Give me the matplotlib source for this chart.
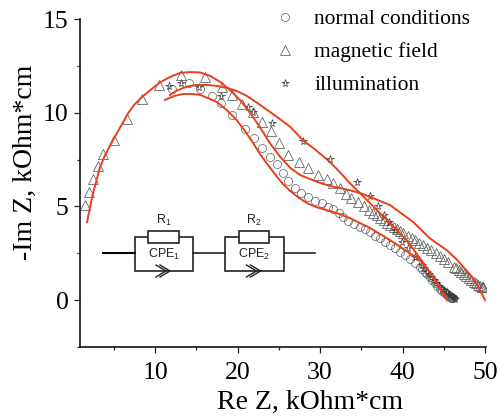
import matplotlib
matplotlib.use('Agg')
from matplotlib import pyplot as plt
from matplotlib.patches import Rectangle
from matplotlib.ticker import MultipleLocator

plt.rcParams['font.family'] = ['Liberation Serif', 'DejaVu Serif']
plt.rcParams['mathtext.default'] = 'regular'

# measured points
normal_x = [12.06, 14.1, 15.5, 16.9, 18, 19.3, 20.9, 22, 23, 23.9, 24.8, 25.5, 26.1, 27, 27.7, 28.5, 29.4,
            30.2, 31, 31.6, 32.3, 32.8, 33.4, 34.1, 34.8, 35.45, 36.06, 36.67, 37.27, 37.88, 38.48, 39.09,
            39.7, 40.3, 40.9, 41.5, 42.1, 42.4, 42.73, 43.0, 43.3, 43.6, 43.94, 44.2, 44.54, 44.8, 45.0, 45.15,
            45.4, 45.6, 45.76, 45.9, 46.0, 46.16]
normal_y = [11.27, 11.6, 11.27, 10.9, 10.5, 9.88, 9.13, 8.65, 8.1, 7.63, 7.26, 6.78, 6.35, 5.98, 5.71, 5.5, 5.29,
            5.18, 4.97, 4.86, 4.65, 4.43, 4.22, 4.06, 3.9, 3.77, 3.65, 3.43, 3.29, 3.11, 2.94, 2.76,
            2.58, 2.4, 2.22, 1.96, 1.78, 1.65, 1.51, 1.38, 1.25, 1.07, 0.89, 0.75, 0.62, 0.5, 0.42, 0.36,
            0.28, 0.2, 0.18, 0.14, 0.1, 0.09]

magnetic_x = [1.5, 2.0, 2.5, 3.1, 3.7, 5.0, 6.6, 8.4, 10.5, 13.15, 16.06, 18.1, 19.3, 20.5, 21.9, 23, 24.06, 25,
              26.1, 27.45, 28.5, 29.7, 30.8, 31.6, 32.4, 33.1, 33.8, 34.65, 35.3, 35.9, 36.4, 36.9, 37.3, 37.7,
              38.1, 38.5, 38.9, 39.3, 39.7, 40.1, 40.7, 41.1, 41.5, 42.0, 42.5, 43.0, 43.5, 44.0, 44.5, 45.0,
              45.55, 46.2, 46.5, 46.8, 47.1, 47.4, 47.7, 48, 48.3, 48.6, 48.9, 49.2, 49.4, 49.6, 49.7, 49.8]
magnetic_y = [5.07, 5.77, 6.46, 7.15, 7.8, 8.54, 9.66, 10.73, 11.48, 12.0, 11.9, 11.37, 10.95, 10.46, 10.04, 9.5, 9.02, 8.38,
              7.74, 7.37, 7.05, 6.67, 6.44, 6.23, 5.96, 5.66, 5.43, 5.21, 5.0, 4.8, 4.67, 4.54, 4.4, 4.27,
              4.13, 4.0, 3.88, 3.77, 3.68, 3.6, 3.43, 3.32, 3.2, 3.07, 2.94, 2.8, 2.67, 2.5, 2.35, 2.2,
              2.05, 1.78, 1.69, 1.6, 1.5, 1.39, 1.28, 1.16, 1.07, 0.98, 0.89, 0.8, 0.75, 0.71, 0.69, 0.68]

illum_x = [11.7, 13.15, 15.3, 18, 21.3, 21.9, 24.2, 27.9, 31.2, 34.45, 36.06, 37.07, 37.7, 38.3, 39.1, 39.9, 40.7,
           41.5, 42.3, 42.6, 42.9, 43.2, 43.5, 43.8, 44.1, 44.4, 44.75, 45.0, 45.35, 45.6, 45.8, 45.96, 46.1, 46.2, 46.36]
illum_y = [11.4, 11.6, 11.37, 10.9, 10.3, 10.04, 9.45, 8.49, 7.53, 6.32, 5.55, 5.0, 4.54, 4.18, 3.74, 3.11, 2.76,
           2.31, 1.87, 1.7, 1.51, 1.38, 1.25, 1.07, 0.89, 0.75, 0.62, 0.53, 0.45, 0.33, 0.27, 0.21, 0.16, 0.1, 0.04]

# red fit curves
fit1_x = [1.76, 2.36, 3.33, 3.94, 4.9, 5.5, 6.7, 7.45, 8.2, 9.4, 10.6, 11.8, 13, 14.2, 15.45, 16.7, 17.9, 19.1, 20.3, 21.5,
          22.7, 23.9, 25.2, 26.4, 27.6, 29.4, 31.2, 33.6, 35.2, 38.5, 41.3, 43.3, 45.4, 46.6, 47.6, 48.5, 49.3, 50]
fit1_y = [4.16, 5.5, 7.1, 7.74, 8.54, 9.0, 9.95, 10.41, 10.75, 11.2, 11.62, 11.9, 12.12, 12.17, 12.15, 11.96, 11.64, 11.2, 10.68, 10,
          9.24, 8.38, 7.63, 7.05, 6.67, 6.35, 6.09, 5.87, 5.66, 5.07, 4.16, 3.3, 2.65, 2.15, 1.65, 1.2, 0.6, 0]
fit2_x = [11.8, 12.55, 13.4, 14.24, 15.1, 16.3, 17.5, 18.7, 19.9, 21.15, 22.4, 23.6, 24.8, 26.4, 27.9, 29.5, 31.2, 32.4,
          33.6, 35.2, 38.1, 40.5, 42.1, 43.3, 44.3, 45.4]
fit2_y = [10.94, 11.16, 11.32, 11.43, 11.48, 11.48, 11.43, 11.32, 11.16, 10.89, 10.52, 10.14, 9.77, 9.24, 8.54, 8.0, 7.37, 6.83,
          6.25, 5.55, 4.27, 3.2, 2.24, 1.5, 0.8, 0]
fit3_x = [11.2, 12.3, 13.4, 14.5, 15.45, 16.4, 17.5, 18.7, 19.9, 20.9, 21.9, 22.7, 23.6, 24.8, 25.5, 26.4, 27.3, 28.4,
          29.5, 31.2, 32.4, 33.6, 36.1, 38.5, 40.9, 42.1, 43.3, 44.2, 45.4]
fit3_y = [10.68, 10.89, 11, 11, 10.95, 10.78, 10.57, 10.14, 9.6, 9.02, 8.38, 7.8, 7.26, 6.57, 6.19, 5.82, 5.5, 5.18,
          4.97, 4.75, 4.59, 4.38, 3.84, 3.2, 2.5, 2.14, 1.5, 0.9, 0]

x_ticks = [10, 20, 30, 40, 50]
y_ticks = [0, 5, 10, 15]

RED = '#e8401c'
GRAY = '#5a5a5a'

fig = plt.figure(figsize=(4.98, 4.16), dpi=100)
ax = fig.add_axes([80 / 498, 1 - 347 / 416, 405.5 / 498, 328 / 416])

ax.plot(normal_x, normal_y, ls='none', marker='o', ms=5.8, mfc='none', mec=GRAY, mew=0.5, label='normal conditions')
ax.plot(magnetic_x, magnetic_y, ls='none', marker='^', ms=6.8, mfc='none', mec=GRAY, mew=0.55, label='magnetic field')
ax.plot(illum_x, illum_y, ls='none', marker='*', ms=5.8, mfc='none', mec='#333333', mew=0.5, label='illumination')

ax.plot(fit1_x, fit1_y, color=RED, lw=1.4)
ax.plot(fit2_x, fit2_y, color=RED, lw=1.4)
ax.plot(fit3_x, fit3_y, color=RED, lw=1.4)

ax.set_xlim(0.9, 50.05)
ax.set_ylim(-2.5, 15)
ax.set_xticks(x_ticks)
ax.set_yticks(y_ticks)
ax.xaxis.set_minor_locator(MultipleLocator(5))
ax.yaxis.set_minor_locator(MultipleLocator(2.5))
ax.tick_params(which='major', length=4.3, width=0.9, labelsize=18.5, color='#222222')
ax.tick_params(axis='x', which='major', pad=6.5)
ax.tick_params(axis='y', which='major', pad=4)
ax.tick_params(which='minor', length=2.3, width=0.9, color='#222222')
ax.spines['top'].set_visible(False)
ax.spines['right'].set_visible(False)
ax.spines['left'].set_linewidth(1.1)
ax.spines['bottom'].set_linewidth(1.1)
ax.set_xlabel('Re Z, kOhm*cm', fontsize=20)
ax.set_ylabel('-Im Z, kOhm*cm', fontsize=20)
ax.xaxis.set_label_coords(0.567, -0.131)
ax.yaxis.set_label_coords(-0.104, 0.564)

ax.legend(loc='upper left', bbox_to_anchor=(0.478, 1.03), frameon=False, fontsize=15.5,
          handlelength=1.0, handletextpad=0.88, labelspacing=0.6, borderpad=0, borderaxespad=0)

# circuit inset, overlay axes in image pixels
cx = fig.add_axes([0, 0, 1, 1], facecolor='none')
cx.set_xlim(0, 498)
cx.set_ylim(416, 0)
cx.axis('off')

LW = 1.2
cx.plot([103, 135], [253, 253], color='black', lw=LW + 0.3)
cx.plot([193, 225], [253, 253], color='#222222', lw=LW)
cx.plot([284, 315], [253, 253], color='#222222', lw=LW)
for left, width, res_left, res_width, idx in [(135, 58, 148, 31, 1), (225, 59, 239, 30, 2)]:
    cx.add_patch(Rectangle((left, 237), width, 34, fill=False, ec='#222222', lw=LW))
    cx.add_patch(Rectangle((res_left, 231), res_width, 12, fc='white', ec='#222222', lw=LW, zorder=3))
    mid = left + width / 2
    cx.text(res_left + res_width / 2, 220.5, f'R$_{idx}$', ha='center', va='center', fontsize=9,
            family='Liberation Sans', color='#222222')
    cx.text(mid, 254.5, f'CPE$_{idx}$', ha='center', va='center', fontsize=9,
            family='Liberation Sans', color='#222222')
    for off in (-4, 0):
        cx.plot([mid + off - 4, mid + off + 6, mid + off - 4], [265, 271, 277], color='#222222', lw=1.0, zorder=4)

fig.savefig('out.png', dpi=100)
